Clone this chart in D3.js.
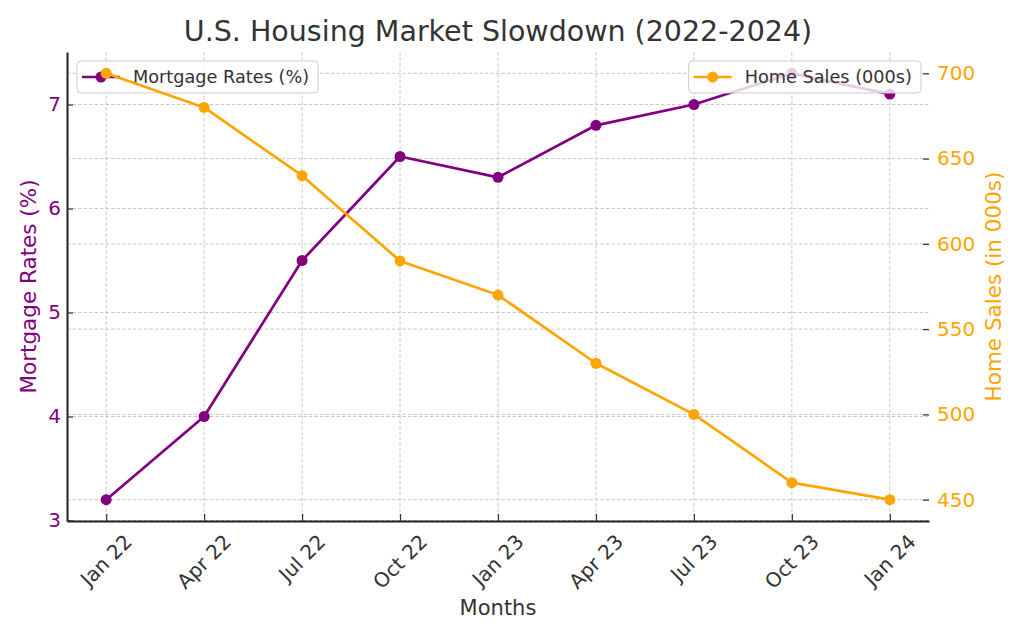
<!DOCTYPE html>
<html>
<head>
<meta charset="utf-8">
<script src="https://cdn.jsdelivr.net/npm/d3@7"></script>
<style>
  html, body { margin: 0; padding: 0; background: #fff; }
  svg { display: block; font-family: "DejaVu Sans", sans-serif; }
</style>
</head>
<body>
<svg id="chart" width="1024" height="640"></svg>
<script>
// ---- data ----
const months = ["Jan 22", "Apr 22", "Jul 22", "Oct 22", "Jan 23", "Apr 23", "Jul 23", "Oct 23", "Jan 24"];
const mortgageRates = [3.2, 4.0, 5.5, 6.5, 6.3, 6.8, 7.0, 7.3, 7.1];
const homeSales = [700, 680, 640, 590, 570, 530, 500, 460, 450];
const rateTicks = [3, 4, 5, 6, 7];
const salesTicks = [450, 500, 550, 600, 650, 700];
const titleText = "U.S. Housing Market Slowdown (2022-2024)";
const rateLabel = "Mortgage Rates (%)";
const salesLabel = "Home Sales (in 000s)";
const xLabel = "Months";
const rateLegend = "Mortgage Rates (%)";
const salesLegend = "Home Sales (000s)";

// ---- layout ----
const W = 1024, H = 640;
const L = 67, R = 929, T = 52, B = 521;
const PURPLE = "#800080", ORANGE = "#FFA500", TEXT = "#333333", SPINE = "#222222";

const svg = d3.select("#chart");

const x = d3.scalePoint().domain(months).range([L, R]).padding(0.4);
const y1 = d3.scaleLinear().domain([2.995, 7.505]).range([B, T]);
const y2 = d3.scaleLinear().domain([437.5, 712.5]).range([B, T]);

// grids
const grid = svg.append("g").attr("stroke", "#c8c8c8").attr("stroke-width", 1)
  .attr("stroke-dasharray", "3.5,2").attr("fill", "none");
months.forEach(m => grid.append("line").attr("x1", x(m)).attr("x2", x(m)).attr("y1", T).attr("y2", B));
rateTicks.forEach(v => grid.append("line").attr("x1", L).attr("x2", R).attr("y1", y1(v)).attr("y2", y1(v)));
salesTicks.forEach(v => grid.append("line").attr("x1", L).attr("x2", R).attr("y1", y2(v)).attr("y2", y2(v)));

// axes
const axL = svg.append("g").attr("transform", `translate(${L},0)`)
  .call(d3.axisLeft(y1).tickValues(rateTicks).tickFormat(d3.format("d")).tickSizeInner(-6).tickSizeOuter(0).tickPadding(6));
axL.select(".domain").attr("stroke", SPINE).attr("stroke-width", 2);
axL.selectAll(".tick line").attr("stroke", "#333").attr("stroke-width", 1.2);
axL.selectAll(".tick text").attr("fill", PURPLE).style("font-size", "20px").style("font-family", "DejaVu Sans");

const axR = svg.append("g").attr("transform", `translate(${R},0)`)
  .call(d3.axisRight(y2).tickValues(salesTicks).tickFormat(d3.format("d")).tickSizeInner(-6).tickSizeOuter(0).tickPadding(8));
axR.select(".domain").remove();
axR.selectAll(".tick line").attr("stroke", "#333").attr("stroke-width", 1.2);
axR.selectAll(".tick text").attr("fill", ORANGE).style("font-size", "20px").style("font-family", "DejaVu Sans");

const axB = svg.append("g").attr("transform", `translate(0,${B})`)
  .call(d3.axisBottom(x).tickSizeInner(-7).tickSizeOuter(0).tickFormat(""));
axB.select(".domain").attr("stroke", SPINE).attr("stroke-width", 2);
axB.selectAll(".tick line").attr("stroke", "#333").attr("stroke-width", 1.2);

// rotated x tick labels (bbox centered on tick)
const xl = svg.append("g");
months.forEach(m => {
  const t = xl.append("text").text(m)
    .attr("fill", TEXT).style("font-size", "20px")
    .attr("text-anchor", "middle").attr("dominant-baseline", "central");
  const w = t.node().getComputedTextLength();
  const h = 20;
  const cy = B + 10 + (w + h) * Math.SQRT1_2 / 2;
  t.attr("transform", `translate(${x(m)},${cy}) rotate(-45)`);
});

// axis labels
svg.append("text").text(rateLabel).attr("fill", PURPLE).style("font-size", "21.5px")
  .attr("text-anchor", "middle").attr("dominant-baseline", "central")
  .attr("transform", `translate(28,${(T + B) / 2}) rotate(-90)`);
svg.append("text").text(salesLabel).attr("fill", ORANGE).style("font-size", "21.5px")
  .attr("text-anchor", "middle").attr("dominant-baseline", "central")
  .attr("transform", `translate(993,${(T + B) / 2}) rotate(-90)`);
svg.append("text").text(xLabel).attr("fill", TEXT).style("font-size", "21px")
  .attr("text-anchor", "middle").attr("x", (L + R) / 2).attr("y", 615);

// title
svg.append("text").text(titleText).attr("fill", TEXT).style("font-size", "28.5px")
  .attr("text-anchor", "middle").attr("x", (L + R) / 2).attr("y", 41);

// legend helper
function legend(x0, anchorRight, label, color) {
  const g = svg.append("g");
  const box = g.append("rect").attr("y", 61).attr("height", 32).attr("rx", 4)
    .attr("fill", "#ffffff").attr("fill-opacity", 0.8).attr("stroke", "#cccccc").attr("stroke-width", 1);
  const txt = g.append("text").text(label).attr("fill", TEXT).style("font-size", "17.7px")
    .attr("dominant-baseline", "central").attr("y", 77);
  const tw = txt.node().getComputedTextLength();
  const bw = 56 + tw + 9;
  const bx = anchorRight ? x0 - bw : x0;
  box.attr("x", bx).attr("width", bw);
  txt.attr("x", bx + 56);
  g.append("line").attr("x1", bx + 5).attr("x2", bx + 43).attr("y1", 77).attr("y2", 77)
    .attr("stroke", color).attr("stroke-width", 2.7);
  g.append("circle").attr("cx", bx + 24).attr("cy", 77).attr("r", 5.5).attr("fill", color);
}

// series 1 (purple)
const line1 = d3.line().x((d, i) => x(months[i])).y(d => y1(d));
svg.append("path").datum(mortgageRates).attr("d", line1).attr("fill", "none")
  .attr("stroke", PURPLE).attr("stroke-width", 2.7).attr("stroke-linejoin", "round");
svg.append("g").selectAll("circle").data(mortgageRates).join("circle")
  .attr("cx", (d, i) => x(months[i])).attr("cy", d => y1(d)).attr("r", 5.5).attr("fill", PURPLE);
legend(77, false, rateLegend, PURPLE);

// series 2 (orange)
const line2 = d3.line().x((d, i) => x(months[i])).y(d => y2(d));
svg.append("path").datum(homeSales).attr("d", line2).attr("fill", "none")
  .attr("stroke", ORANGE).attr("stroke-width", 2.7).attr("stroke-linejoin", "round");
svg.append("g").selectAll("circle").data(homeSales).join("circle")
  .attr("cx", (d, i) => x(months[i])).attr("cy", d => y2(d)).attr("r", 5.5).attr("fill", ORANGE);
legend(921, true, salesLegend, ORANGE);
</script>
</body>
</html>
